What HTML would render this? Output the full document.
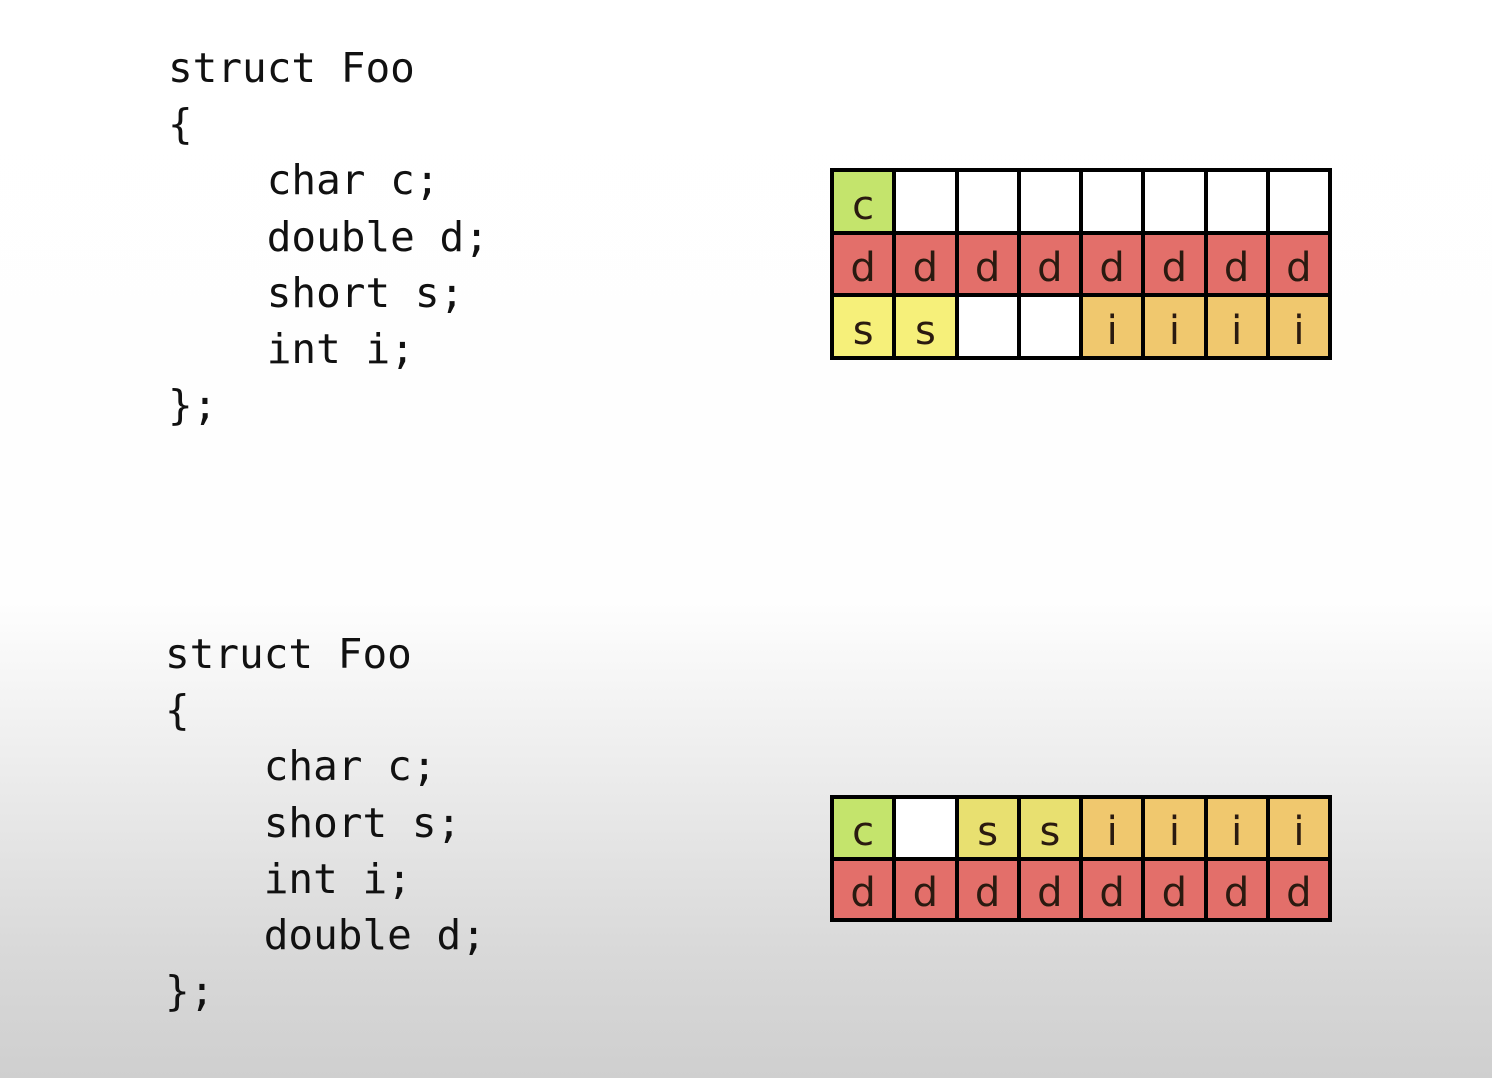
<!DOCTYPE html>
<html><head><style>
html,body{margin:0;padding:0}
body{width:1492px;height:1078px;position:relative;overflow:hidden;
background:linear-gradient(to bottom,#ffffff 0px,#fefefe 600px,#ebebeb 780px,#d9d9d9 950px,#cfcfcf 1078px);
font-family:"DejaVu Sans Mono","Liberation Mono",monospace;}
.code{position:absolute;font-size:41px;line-height:56.2px;color:#111;white-space:pre;margin:0}
.grid{position:absolute;left:830px;width:502px;background:#000;display:grid;grid-template-columns:repeat(8,1fr);gap:4px;padding:4px;box-sizing:border-box}
.grid div{background:#fff;font-family:"DejaVu Sans","Liberation Sans",sans-serif;font-size:40px;color:#2a1a10;display:flex;align-items:flex-end;justify-content:center;padding-bottom:2px;box-sizing:border-box}
.g{background:#c4e46c!important}.r{background:#e36f6a!important}.y{background:#f6f07a!important}.o{background:#f0c86e!important}
</style></head><body>
<pre class="code" style="left:168px;top:40px">struct Foo
{
    char c;
    double d;
    short s;
    int i;
};</pre>
<pre class="code" style="left:165px;top:626px">struct Foo
{
    char c;
    short s;
    int i;
    double d;
};</pre>
<div class="grid" style="top:168px;height:192px;grid-template-rows:repeat(3,1fr)">
<div class="g">c</div><div></div><div></div><div></div><div></div><div></div><div></div><div></div>
<div class="r">d</div><div class="r">d</div><div class="r">d</div><div class="r">d</div><div class="r">d</div><div class="r">d</div><div class="r">d</div><div class="r">d</div>
<div class="y">s</div><div class="y">s</div><div></div><div></div><div class="o">i</div><div class="o">i</div><div class="o">i</div><div class="o">i</div>
</div>
<div class="grid" style="top:795px;height:127px;grid-template-rows:repeat(2,1fr)">
<div class="g">c</div><div></div><div class="y" style="background:#e8e070!important">s</div><div class="y" style="background:#e8e070!important">s</div><div class="o">i</div><div class="o">i</div><div class="o">i</div><div class="o">i</div>
<div class="r">d</div><div class="r">d</div><div class="r">d</div><div class="r">d</div><div class="r">d</div><div class="r">d</div><div class="r">d</div><div class="r">d</div>
</div>
</body></html>
